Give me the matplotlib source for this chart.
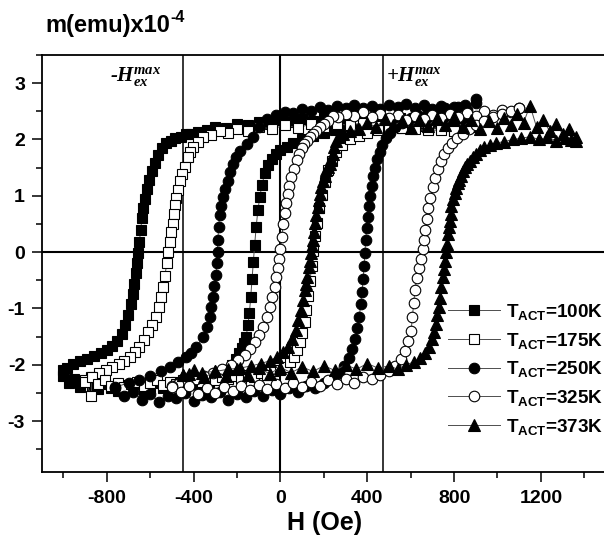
import matplotlib
matplotlib.use('Agg')
import matplotlib.pyplot as plt
from matplotlib.ticker import MultipleLocator
from matplotlib.font_manager import FontProperties

plt.rcParams['font.family'] = ['Liberation Sans', 'DejaVu Sans']
plt.rcParams['font.weight'] = 'bold'
plt.rcParams['mathtext.default'] = 'regular'
plt.rcParams['axes.unicode_minus'] = False

# ---------------- data (H in Oe, m in 1e-4 emu) ----------------
# T_ACT = 100 K  (filled squares)
H100_dn = [900, 850, 800, 750, 700, 650, 600, 550, 500, 450,
           400, 350, 300, 250, 200, 150, 100, 50, 0,
           -50, -100, -150, -200, -250, -300,
           -340, -380, -410, -435, -460, -485, -505, -525, -545, -562,
           -578, -592, -604, -614, -623, -631, -638, -644, -650, -655,
           -660, -666, -673, -681, -690, -702, -716, -732, -752, -775,
           -800, -828, -858, -890, -922, -955, -985, -1000]
m100_dn = [2.22, 2.30, 2.26, 2.34, 2.29, 2.37, 2.31, 2.39, 2.34, 2.41,
           2.36, 2.43, 2.38, 2.35, 2.40, 2.33, 2.37, 2.31, 2.35,
           2.28, 2.31, 2.25, 2.27, 2.20, 2.22,
           2.16, 2.14, 2.10, 2.09, 2.05, 2.02, 1.98, 1.93, 1.84, 1.72,
           1.58, 1.44, 1.28, 1.12, 0.95, 0.78, 0.60, 0.40, 0.18, -0.02,
           -0.20, -0.38, -0.56, -0.74, -0.92, -1.12, -1.30, -1.45, -1.58, -1.67,
           -1.74, -1.80, -1.85, -1.90, -1.94, -1.99, -2.05, -2.10]
H100_up = [-1000, -975, -950, -925, -900,
           -870, -840, -810, -780, -750, -720, -690, -660, -630, -600,
           -570, -540, -510, -480, -450, -420, -390, -360, -330, -300,
           -270, -245, -222, -204, -190, -178, -168, -158, -150, -143,
           -137, -131, -125, -119, -112, -104, -95, -85, -72, -58,
           -40, -20, 0, 30, 60, 100,
           150, 200, 250, 300, 350, 400, 450, 500, 550, 600,
           650, 700, 750, 800, 850, 900]
m100_up = [-2.20, -2.32, -2.26, -2.40, -2.30,
           -2.37, -2.44, -2.34, -2.41, -2.47, -2.36, -2.43, -2.35, -2.45, -2.39,
           -2.33, -2.42, -2.36, -2.31, -2.38, -2.29, -2.34, -2.27, -2.30, -2.24,
           -2.18, -2.10, -2.00, -1.90, -1.80, -1.70, -1.62, -1.50, -1.30, -1.08,
           -0.80, -0.48, -0.18, 0.12, 0.44, 0.74, 0.98, 1.20, 1.40, 1.55,
           1.66, 1.75, 1.81, 1.87, 1.93, 2.00,
           2.07, 2.12, 2.16, 2.20, 2.18, 2.23, 2.20, 2.26, 2.22, 2.27,
           2.24, 2.29, 2.25, 2.28, 2.24, 2.26]

# T_ACT = 175 K  (open squares)
H175_dn = [800, 740, 680, 620, 560, 500, 440, 380, 320, 260,
           200, 140, 80, 20, -40, -100, -150, -200, -240, -280,
           -320, -358, -380, -404, -416, -427, -441, -453, -464, -473,
           -481, -487, -492, -496, -503, -510, -516, -523, -533, -542,
           -550, -560, -572, -590, -610, -630, -650, -672, -695, -720,
           -745, -775, -805, -835, -871, -871, -900]
m175_dn = [2.15, 2.22, 2.18, 2.26, 2.21, 2.28, 2.24, 2.30, 2.25, 2.28,
           2.23, 2.27, 2.21, 2.25, 2.19, 2.22, 2.15, 2.19, 2.11, 2.15,
           2.08, 2.04, 1.96, 1.87, 1.78, 1.69, 1.51, 1.39, 1.27, 1.10,
           0.96, 0.83, 0.68, 0.50, 0.35, 0.18, 0.00, -0.20, -0.42, -0.62,
           -0.80, -0.98, -1.15, -1.30, -1.42, -1.56, -1.68, -1.78, -1.87, -1.94,
           -1.99, -2.04, -2.10, -2.15, -2.22, -2.56, -2.28]
H175_up = [-900, -870, -840, -810, -780, -750, -720, -690, -660, -630,
           -600, -570, -540, -510, -480, -450, -420, -390, -360, -330,
           -300, -270, -240, -210, -180, -150, -120, -90, -60, -30,
           0, 25, 45, 62, 77, 90, 101, 111, 120, 128,
           136, 144, 152, 160, 169, 179, 190, 203, 218, 236,
           258, 285, 320, 360, 400, 450, 500, 560, 620, 680,
           740, 800]
m175_up = [-2.30, -2.22, -2.35, -2.28, -2.38, -2.32, -2.40, -2.35, -2.30, -2.38,
           -2.33, -2.28, -2.36, -2.30, -2.34, -2.27, -2.32, -2.25, -2.30, -2.24,
           -2.28, -2.22, -2.26, -2.20, -2.24, -2.18, -2.21, -2.15, -2.18, -2.12,
           -2.10, -2.04, -1.96, -1.86, -1.74, -1.60, -1.44, -1.25, -1.02, -0.78,
           -0.52, -0.25, 0.02, 0.28, 0.52, 0.78, 1.02, 1.25, 1.45, 1.62,
           1.78, 1.90, 2.00, 2.07, 2.12, 2.16, 2.18, 2.20, 2.18, 2.16,
           2.17, 2.15]

# T_ACT = 250 K  (filled circles)
H250_dn = [900, 860, 820, 780, 740, 700, 660, 620, 580, 540,
           500, 460, 420, 380, 340, 300, 260, 220, 180, 140,
           100, 60, 20, -20, -60, -100, -127, -155, -187, -205,
           -219, -232, -243, -255, -266, -273, -280, -285, -288, -290,
           -293, -297, -304, -312, -318, -326, -340, -358, -387, -410,
           -433, -470, -510, -550, -600, -650, -700, -760]
m250_dn = [2.72, 2.52, 2.58, 2.50, 2.60, 2.54, 2.62, 2.55, 2.63, 2.57,
           2.61, 2.54, 2.59, 2.56, 2.62, 2.55, 2.59, 2.53, 2.57, 2.51,
           2.54, 2.47, 2.49, 2.43, 2.36, 2.22, 2.05, 1.92, 1.80, 1.68,
           1.57, 1.42, 1.27, 1.12, 0.98, 0.82, 0.65, 0.45, 0.22, 0.00,
           -0.20, -0.40, -0.60, -0.80, -0.98, -1.15, -1.33, -1.51, -1.69, -1.79,
           -1.87, -1.96, -2.04, -2.12, -2.20, -2.27, -2.32, -2.40]
H250_up = [-760, -720, -680, -640, -600, -560, -520, -480, -440, -400,
           -360, -320, -280, -240, -200, -160, -120, -80, -40, 0,
           40, 80, 120, 160, 200, 240, 270, 295, 315, 332,
           345, 355, 363, 370, 376, 381, 385, 389, 393, 397,
           402, 407, 413, 420, 428, 437, 447, 458, 470, 485,
           505, 530, 560, 600, 640, 680, 720, 760, 800, 850,
           900]
m250_up = [-2.42, -2.55, -2.48, -2.62, -2.52, -2.66, -2.55, -2.60, -2.50, -2.64,
           -2.54, -2.58, -2.48, -2.62, -2.52, -2.57, -2.47, -2.55, -2.45, -2.52,
           -2.42, -2.48, -2.38, -2.42, -2.32, -2.25, -2.15, -2.02, -1.88, -1.72,
           -1.55, -1.35, -1.15, -0.92, -0.70, -0.48, -0.25, -0.02, 0.22, 0.42,
           0.62, 0.82, 1.00, 1.18, 1.35, 1.50, 1.65, 1.78, 1.90, 2.02,
           2.12, 2.22, 2.30, 2.38, 2.42, 2.48, 2.52, 2.55, 2.58, 2.62,
           2.65]

# T_ACT = 325 K  (open circles)
H325_dn = [1100, 1060, 1020, 980, 940, 900, 860, 820, 780, 740,
           700, 660, 620, 580, 540, 500, 460, 420, 380, 340,
           300, 265, 240, 220, 200, 181, 163, 148, 135, 122,
           110, 98, 86, 74, 62, 50, 41, 34, 27, 20,
           13, 6, 0, -6, -12, -19, -27, -37, -49, -63,
           -80, -98, -118, -140, -165, -195, -230, -270, -310, -350,
           -390, -430, -470, -500]
m325_dn = [2.55, 2.48, 2.52, 2.44, 2.50, 2.42, 2.47, 2.40, 2.46, 2.38,
           2.44, 2.36, 2.42, 2.35, 2.44, 2.38, 2.46, 2.40, 2.48, 2.42,
           2.45, 2.40, 2.42, 2.32, 2.28, 2.22, 2.15, 2.10, 2.04, 1.98,
           1.92, 1.85, 1.75, 1.63, 1.48, 1.33, 1.18, 1.04, 0.88, 0.69,
           0.50, 0.27, 0.05, -0.12, -0.28, -0.45, -0.62, -0.80, -0.98, -1.16,
           -1.33, -1.48, -1.60, -1.72, -1.82, -1.92, -2.00, -2.08, -2.14, -2.20,
           -2.25, -2.30, -2.34, -2.38]
H325_up = [-500, -460, -420, -380, -340, -300, -260, -220, -180, -140,
           -100, -60, -20, 20, 60, 100, 140, 180, 220, 260,
           300, 340, 380, 420, 460, 500, 530, 555, 575, 590,
           602, 608, 614, 620, 627, 637, 647, 655, 661, 667,
           674, 682, 691, 701, 712, 724, 738, 754, 772, 792,
           815, 840, 870, 900, 940, 980, 1020, 1060, 1100]
m325_up = [-2.40, -2.48, -2.38, -2.52, -2.42, -2.50, -2.40, -2.47, -2.38, -2.45,
           -2.36, -2.44, -2.34, -2.42, -2.33, -2.40, -2.30, -2.38, -2.28, -2.35,
           -2.26, -2.32, -2.22, -2.26, -2.18, -2.12, -2.02, -1.90, -1.75, -1.58,
           -1.40, -1.15, -0.90, -0.68, -0.46, -0.28, -0.12, 0.05, 0.22, 0.40,
           0.58, 0.78, 0.96, 1.15, 1.32, 1.48, 1.62, 1.74, 1.85, 1.94,
           2.02, 2.10, 2.18, 2.25, 2.32, 2.40, 2.45, 2.50, 2.55]

# T_ACT = 373 K  (filled triangles)
H373_dn = [1360, 1330, 1300, 1270, 1240, 1210, 1180, 1150, 1120, 1090,
           1060, 1030, 1000, 960, 920, 880, 840, 800, 760, 720,
           680, 640, 600, 560, 520, 480, 440, 400, 360, 320,
           290, 270, 258, 248, 241, 234, 227, 220, 212, 204,
           195, 188, 181, 176, 172, 166, 160, 154, 149, 145,
           141, 136, 130, 124, 118, 111, 103, 94, 83, 70,
           54, 35, 12, -15, -50, -90, -135, -185, -240, -300,
           -360, -420, -450]
m373_dn = [2.05, 2.18, 2.10, 2.28, 2.15, 2.35, 2.22, 2.60, 2.30, 2.45,
           2.25, 2.38, 2.20, 2.32, 2.18, 2.35, 2.22, 2.40, 2.26, 2.38,
           2.24, 2.35, 2.20, 2.32, 2.25, 2.36, 2.22, 2.30, 2.18, 2.15,
           2.10, 2.04, 1.98, 1.86, 1.75, 1.66, 1.57, 1.51, 1.45, 1.36,
           1.27, 1.15, 1.04, 0.92, 0.80, 0.65, 0.51, 0.36, 0.21, 0.10,
           -0.02, -0.15, -0.27, -0.44, -0.56, -0.68, -0.85, -1.02, -1.21, -1.38,
           -1.55, -1.68, -1.78, -1.86, -1.93, -1.98, -2.02, -2.06, -2.08, -2.12,
           -2.14, -2.16, -2.18]
H373_up = [-450, -400, -350, -300, -250, -200, -150, -100, -50, 0,
           50, 100, 150, 200, 250, 300, 350, 400, 450, 500,
           540, 580, 615, 645, 668, 685, 698, 708, 716, 723,
           729, 735, 741, 747, 753, 759, 764, 768, 772, 776,
           780, 784, 788, 795, 803, 810, 817, 825, 834, 842,
           849, 860, 872, 885, 900, 918, 940, 965, 995, 1030,
           1070, 1110, 1150, 1190, 1230, 1270, 1310, 1340, 1360]
m373_up = [-2.18, -2.10, -2.22, -2.12, -2.20, -2.08, -2.18, -2.06, -2.16, -2.05,
           -2.14, -2.04, -2.12, -2.02, -2.10, -2.00, -2.08, -1.98, -2.06, -2.02,
           -2.08, -2.00, -1.95, -1.88, -1.80, -1.68, -1.55, -1.42, -1.28, -1.12,
           -0.98, -0.82, -0.62, -0.45, -0.30, -0.15, 0.00, 0.15, 0.33, 0.45,
           0.55, 0.68, 0.82, 0.95, 1.05, 1.14, 1.22, 1.28, 1.36, 1.44,
           1.51, 1.57, 1.62, 1.68, 1.74, 1.81, 1.86, 1.90, 1.94, 1.96,
           2.00, 2.02, 2.05, 2.00, 2.04, 1.98, 2.02, 1.99, 1.98]

labels = ['T$_{ACT}$=100K', 'T$_{ACT}$=175K', 'T$_{ACT}$=250K',
          'T$_{ACT}$=325K', 'T$_{ACT}$=373K']
H_exchange = [-450, 472]
x_ticks = [-800, -400, 0, 400, 800, 1200]
y_ticks = [-3, -2, -1, 0, 1, 2, 3]

series = [
    (H100_dn + H100_up, m100_dn + m100_up),
    (H175_dn + H175_up, m175_dn + m175_up),
    (H250_dn + H250_up, m250_dn + m250_up),
    (H325_dn + H325_up, m325_dn + m325_up),
    (H373_dn + H373_up, m373_dn + m373_up),
]
styles = [
    dict(marker='s', ms=7.2, mfc='black'),
    dict(marker='s', ms=7.2, mfc='white'),
    dict(marker='o', ms=7.6, mfc='black'),
    dict(marker='o', ms=7.6, mfc='white'),
    dict(marker='^', ms=8.4, mfc='black'),
]

W, Hpx = 604, 548
fig = plt.figure(figsize=(W / 100, Hpx / 100), dpi=100)
left, right, top, bottom = 41.7, 606.0, 55.0, 471.7
ax = fig.add_axes([left / W, 1 - bottom / Hpx, (right - left) / W, (bottom - top) / Hpx])
ax.set_xlim(-1100, 1500)
ax.set_ylim(-3.9, 3.5)

# reference lines
ax.axhline(0, color='black', lw=1.5, zorder=1)
ax.axvline(0, color='black', lw=1.5, zorder=1)
for hx in H_exchange:
    ax.axvline(hx, color='black', lw=1.1, zorder=1)

handles = []
for (hh, mm), st, lab in zip(series, styles, labels):
    ln, = ax.plot(hh, mm, color='0.3', lw=0.7, mec='black', mew=0.8,
                  label=lab, zorder=3, **st)
    handles.append(ln)

ax.set_xticks(x_ticks)
ax.set_yticks(y_ticks)
ax.xaxis.set_minor_locator(MultipleLocator(200))
ax.yaxis.set_minor_locator(MultipleLocator(0.5))
ax.tick_params(which='both', direction='out', top=False, right=False, width=1.1)
ax.tick_params(which='major', length=7, labelsize=14)
ax.tick_params(which='minor', length=4)
ax.tick_params(axis='x', pad=6.5)
ax.tick_params(axis='y', pad=5)
for s in ['left', 'bottom', 'top']:
    ax.spines[s].set_linewidth(1.3)
ax.spines['right'].set_visible(False)

# texts
renderer = fig.canvas.get_renderer()
t_m = fig.text(45 / W, 1 - 32 / Hpx, 'm(emu)x10', fontsize=17, va='baseline', ha='left')
bb = t_m.get_window_extent(renderer)
fig.text((bb.x1 + 0.5) / W, 1 - 22 / Hpx, '-4', fontsize=11.5, va='baseline', ha='left')
fig.text(324.6 / W, 1 - 530 / Hpx, 'H (Oe)', fontsize=18, va='baseline', ha='center')
fig.text(110 / W, 1 - 81 / Hpx, '-H$_{ex}^{max}$', family='Liberation Serif',
         style='italic', weight='bold', fontsize=15, va='baseline', ha='left')
fig.text(386 / W, 1 - 81 / Hpx, '+H$_{ex}^{max}$', family='Liberation Serif',
         style='italic', weight='bold', fontsize=15, va='baseline', ha='left')

leg = ax.legend(handles=handles, loc='upper left',
                bbox_to_anchor=(448 / W, 1 - 302 / Hpx), bbox_transform=fig.transFigure,
                frameon=False, prop=FontProperties(family='Liberation Sans', weight='bold', size=13.6),
                handlelength=2.75, handletextpad=0.3, labelspacing=0.46,
                borderpad=0, borderaxespad=0, numpoints=1)

fig.savefig('out.png', dpi=100)
